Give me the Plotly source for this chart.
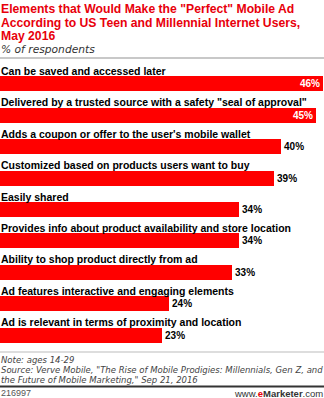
import plotly.graph_objects as go

categories = [
    "Can be saved and accessed later",
    "Delivered by a trusted source with a safety \"seal of approval\"",
    "Adds a coupon or offer to the user's mobile wallet",
    "Customized based on products users want to buy",
    "Easily shared",
    "Provides info about product availability and store location",
    "Ability to shop product directly from ad",
    "Ad features interactive and engaging elements",
    "Ad is relevant in terms of proximity and location",
]
values = [46, 45, 40, 39, 34, 34, 33, 24, 23]

title_lines = [
    "Elements that Would Make the \"Perfect\" Mobile Ad",
    "According to US Teen and Millennial Internet Users,",
    "May 2016",
]
subtitle = "% of respondents"
note_lines = [
    "Note: ages 14-29",
    "Source: Verve Mobile, \"The Rise of Mobile Prodigies: Millennials, Gen Z, and",
    "the Future of Mobile Marketing,\" Sep 21, 2016",
]
chart_id = "216997"

W, H = 324, 398
MT, MB = 68, 47
RED = "#ff0000"
LAB = "Liberation Sans"
DV = "DejaVu Sans"

ypos = list(range(len(categories)))
inside = [v >= 45 for v in values]

fig = go.Figure()
fig.add_trace(go.Bar(
    x=values, y=ypos, orientation="h",
    marker=dict(color=RED, line=dict(width=0)),
    width=0.48,
    text=[f"<b>{v}%</b>" for v in values],
    textposition=["inside" if i else "outside" for i in inside],
    insidetextanchor="end",
    textfont=dict(family=LAB, size=10, color=["white" if i else "black" for i in inside]),
    constraintext="none",
    cliponaxis=False,
    hoverinfo="skip",
))

def py2shift(py):
    return MT - py

ann = []
for i, c in enumerate(categories):
    ann.append(dict(x=0, xref="paper", y=i, yref="y", text=f"<b>{c}</b>",
                    xanchor="left", yanchor="middle", yshift=13, showarrow=False,
                    font=dict(family=LAB, size=10.5, color="black"), xshift=-1))

title_y = [9, 22.5, 36]
for t, yy in zip(title_lines, title_y):
    ann.append(dict(x=0, xref="paper", y=1, yref="paper", yshift=py2shift(yy),
                    text=f"<b>{t}</b>", xanchor="left", yanchor="middle", showarrow=False,
                    font=dict(family=LAB, size=12.2, color="#e8000b"), xshift=-1))
ann.append(dict(x=0, xref="paper", y=1, yref="paper", yshift=py2shift(49.5),
                text=f"<i>{subtitle}</i>", xanchor="left", yanchor="middle", showarrow=False,
                font=dict(family=DV, size=10.7, color="#333"), xshift=-1))

note_y = [359.5, 369.5, 379.5]
for t, yy in zip(note_lines, note_y):
    ann.append(dict(x=0, xref="paper", y=1, yref="paper", yshift=py2shift(yy),
                    text=f"<i>{t}</i>", xanchor="left", yanchor="middle", showarrow=False,
                    font=dict(family=DV, size=8.5, color="#444"), xshift=-1))
ann.append(dict(x=0, xref="paper", y=1, yref="paper", yshift=py2shift(393),
                text=chart_id, xanchor="left", yanchor="middle", showarrow=False,
                font=dict(family=LAB, size=9, color="#555"), xshift=-1))
ann.append(dict(x=1, xref="paper", y=1, yref="paper", yshift=py2shift(393),
                text="www.<b><span style='color:#e8000b'>e</span>Marketer</b>.com",
                xanchor="right", yanchor="middle", showarrow=False,
                font=dict(family=LAB, size=9.5, color="#333"), xshift=1))

ph = H - MT - MB
def pp(py):
    return (H - MB - py) / ph

shapes = [
    dict(type="line", xref="paper", yref="paper", x0=0, x1=1, y0=pp(58), y1=pp(58),
         line=dict(color="#c8c8c8", width=2)),
    dict(type="line", xref="paper", yref="paper", x0=0, x1=1, y0=pp(352), y1=pp(352),
         line=dict(color="#bbbbbb", width=1)),
    dict(type="line", xref="paper", yref="paper", x0=0, x1=1, y0=pp(386.5), y1=pp(386.5),
         line=dict(color="#333333", width=2)),
]

fig.update_layout(
    width=W, height=H,
    margin=dict(l=0, r=0, t=MT, b=MB, pad=0),
    paper_bgcolor="white", plot_bgcolor="white",
    showlegend=False,
    xaxis=dict(range=[0, 46.1], visible=False, fixedrange=True),
    yaxis=dict(range=[8.5, -0.5], visible=False, fixedrange=True),
    annotations=ann,
    shapes=shapes,
    bargap=0,
)

fig.write_html("out.html", config={"displayModeBar": False})
